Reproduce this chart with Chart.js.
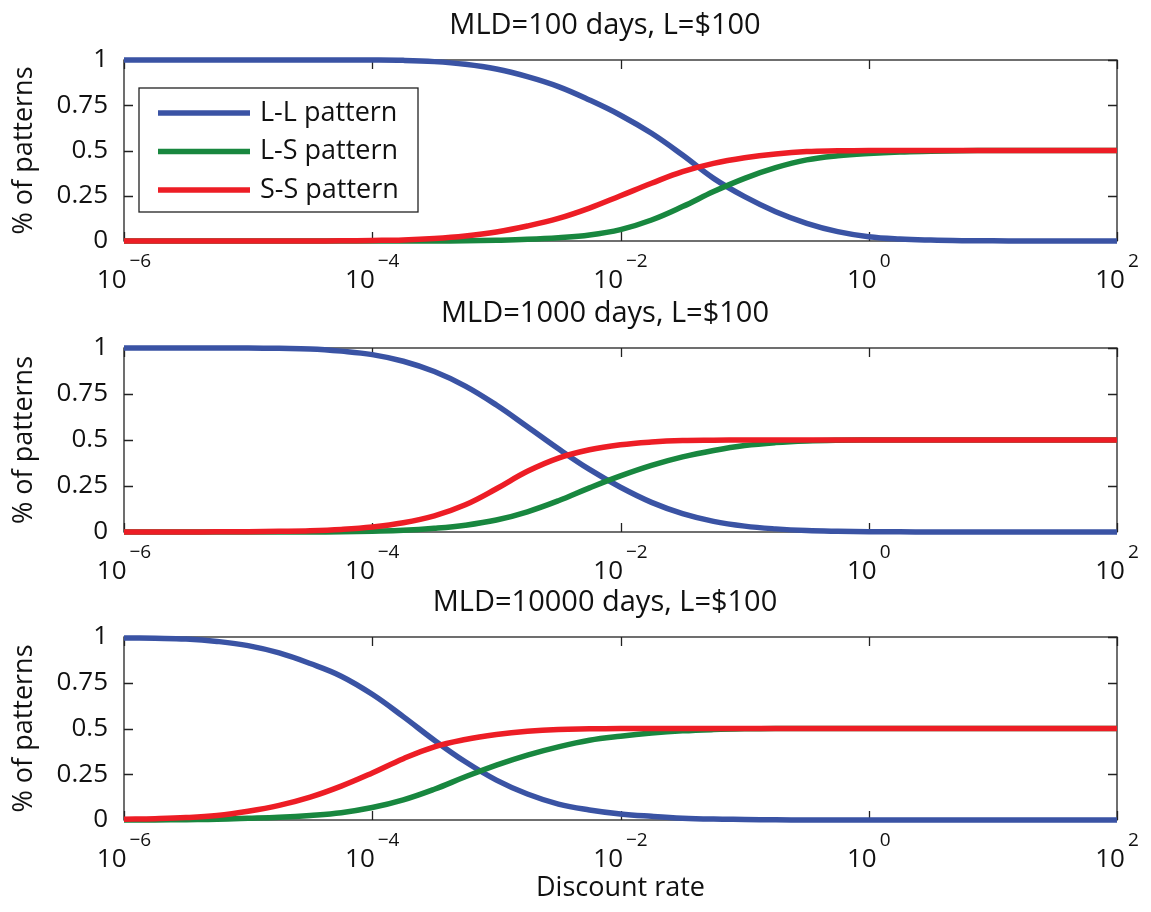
<!DOCTYPE html>
<html><head><meta charset="utf-8">
<script src="https://cdn.jsdelivr.net/npm/chart.js@4/dist/chart.umd.min.js"></script>
<style>
html,body{margin:0;padding:0;background:#fff;}
#wrap{position:relative;width:1151px;height:912px;background:#fff;}
canvas{position:absolute;left:0;}
</style></head><body>
<div id="wrap">
<canvas id="c1" width="1151" height="290" style="top:0px"></canvas>
<canvas id="c2" width="1151" height="295" style="top:290px"></canvas>
<canvas id="c3" width="1151" height="327" style="top:585px"></canvas>
</div>
<script>
// ---- data ----
const logRate = [-6,-5.75,-5.5,-5.25,-5,-4.75,-4.5,-4.25,-4,-3.75,-3.5,-3.25,-3,-2.75,-2.5,-2.25,-2,-1.75,-1.5,-1.25,-1,-0.75,-0.5,-0.25,0,0.25,0.5,0.75,1,1.25,1.5,1.75,2];
const xTickExponents = [-6,-4,-2,0,2];
const yTickValues = [0,0.25,0.5,0.75,1];
const seriesNames = ['L-L pattern','L-S pattern','S-S pattern'];
const panelTitles = ['MLD=100 days, L=$100','MLD=1000 days, L=$100','MLD=10000 days, L=$100'];
const yAxisLabel = '% of patterns';
const xAxisLabel = 'Discount rate';

const LL_100 = [1,1,1,1,1,1,1,1,1,0.998,0.991,0.976,0.95,0.908,0.853,0.779,0.695,0.595,0.475,0.346,0.245,0.162,0.098,0.052,0.024,0.011,0.005,0.002,0.001,0,0,0,0];
const LS_100 = [0,0,0,0,0,0,0,0,0,0,0,0.001,0.004,0.009,0.018,0.033,0.063,0.116,0.19,0.273,0.346,0.405,0.448,0.471,0.484,0.492,0.496,0.499,0.5,0.5,0.5,0.5,0.5];
const SS_100 = [0,0,0,0,0,0,0,0.001,0.003,0.006,0.014,0.028,0.05,0.083,0.125,0.182,0.25,0.319,0.383,0.429,0.46,0.481,0.494,0.498,0.5,0.5,0.5,0.5,0.5,0.5,0.5,0.5,0.5];

const LL_1000 = [1,1,1,1,1,0.998,0.995,0.983,0.964,0.928,0.872,0.793,0.69,0.572,0.452,0.34,0.243,0.161,0.1,0.058,0.032,0.017,0.008,0.004,0.002,0.001,0,0,0,0,0,0,0];
const LS_1000 = [0,0,0,0,0,0,0,0.001,0.004,0.009,0.02,0.037,0.065,0.11,0.17,0.24,0.305,0.362,0.408,0.443,0.47,0.486,0.495,0.499,0.5,0.5,0.5,0.5,0.5,0.5,0.5,0.5,0.5];
const SS_1000 = [0,0,0,0.001,0.002,0.004,0.007,0.014,0.027,0.05,0.088,0.148,0.235,0.33,0.402,0.447,0.474,0.489,0.497,0.499,0.5,0.5,0.5,0.5,0.5,0.5,0.5,0.5,0.5,0.5,0.5,0.5,0.5];

const LL_10000 = [0.995,0.993,0.989,0.976,0.953,0.913,0.855,0.786,0.687,0.565,0.436,0.318,0.218,0.142,0.087,0.055,0.033,0.02,0.01,0.005,0.003,0.001,0,0,0,0,0,0,0,0,0,0,0];
const LS_10000 = [0,0,0.002,0.004,0.009,0.015,0.025,0.04,0.068,0.11,0.168,0.236,0.3,0.355,0.4,0.436,0.458,0.475,0.487,0.494,0.498,0.5,0.5,0.5,0.5,0.5,0.5,0.5,0.5,0.5,0.5,0.5,0.5];
const SS_10000 = [0.004,0.007,0.013,0.025,0.048,0.08,0.125,0.185,0.257,0.335,0.4,0.44,0.467,0.485,0.495,0.498,0.5,0.5,0.5,0.5,0.5,0.5,0.5,0.5,0.5,0.5,0.5,0.5,0.5,0.5,0.5,0.5,0.5];

const panelSeries = [[LL_100, LS_100, SS_100],[LL_1000, LS_1000, SS_1000],[LL_10000, LS_10000, SS_10000]];

// ---- styles ----
const colors = ['#3a53a4','#18873f','#ed1d25'];
const FONT = '"Open Sans", "Noto Sans", sans-serif';
const axisColor = '#222';

const layouts = [
  {id:'c1', h:290, top:60, bottom:241, legend:true, xTitle:false},
  {id:'c2', h:295, top:58, bottom:242, legend:false, xTitle:false},
  {id:'c3', h:327, top:52, bottom:235, legend:false, xTitle:true}
];

function makePlugin(pi, cfg){
  return {
    id:'matlabFrame'+pi,
    beforeDatasetsDraw(chart){
      const {ctx, chartArea:a, scales:{x,y}} = chart;
      ctx.save();
      ctx.strokeStyle = axisColor; ctx.lineWidth = 1.3;
      ctx.strokeRect(a.left, a.top, a.right-a.left, a.bottom-a.top);
      ctx.beginPath();
      xTickExponents.forEach(e=>{
        const px = Math.round(x.getPixelForValue(Math.pow(10,e)))+0.5;
        ctx.moveTo(px,a.bottom); ctx.lineTo(px,a.bottom-9);
        ctx.moveTo(px,a.top); ctx.lineTo(px,a.top+9);
      });
      yTickValues.forEach(v=>{
        const py = Math.round(y.getPixelForValue(v))+0.5;
        ctx.moveTo(a.left,py); ctx.lineTo(a.left+9,py);
        ctx.moveTo(a.right,py); ctx.lineTo(a.right-9,py);
      });
      ctx.stroke();
      ctx.restore();
    },
    afterDraw(chart){
      const {ctx, chartArea:a, scales:{x}} = chart;
      ctx.save();
      ctx.fillStyle = '#111';
      // panel title
      ctx.font = '29px '+FONT;
      ctx.textAlign = 'center'; ctx.textBaseline = 'middle';
      ctx.fillText(panelTitles[pi], 605, a.top-34);
      // x tick labels 10^n
      ctx.textAlign = 'left'; ctx.textBaseline = 'alphabetic';
      xTickExponents.forEach(e=>{
        const px = x.getPixelForValue(Math.pow(10,e));
        const base = '10';
        const exp = e < 0 ? '\u2212' + (-e) : String(e);
        ctx.font = '26px '+FONT; const wb = ctx.measureText(base).width;
        ctx.font = '19px '+FONT; const we = ctx.measureText(exp).width;
        const gap = 3;
        const x0 = px - (wb+gap+we)/2;
        ctx.font = '26px '+FONT; ctx.fillText(base, x0, a.bottom+47);
        ctx.font = '19px '+FONT; ctx.fillText(exp, x0+wb+gap, a.bottom+26);
      });
      // legend
      if (cfg.legend){
        const bx = a.left+15, by = a.top+28, bw = 279, bh = 124;
        ctx.fillStyle = '#fff';
        ctx.fillRect(bx,by,bw,bh);
        ctx.strokeStyle = axisColor; ctx.lineWidth = 1.3;
        ctx.strokeRect(bx,by,bw,bh);
        ctx.font = '27px '+FONT;
        ctx.textBaseline = 'middle'; ctx.textAlign = 'left';
        seriesNames.forEach((n,i)=>{
          const yy = by + 25 + i*38.5;
          ctx.strokeStyle = colors[i]; ctx.lineWidth = 5.5; ctx.lineCap = 'butt';
          ctx.beginPath(); ctx.moveTo(bx+19,yy); ctx.lineTo(bx+111,yy); ctx.stroke();
          ctx.fillStyle = '#111';
          ctx.fillText(n, bx+121, yy);
        });
      }
      ctx.restore();
    }
  };
}

layouts.forEach((cfg, pi)=>{
  const series = panelSeries[pi];
  const datasets = series.map((arr, si)=>({
    label: seriesNames[si],
    data: logRate.map((e,i)=>({x: Math.pow(10,e), y: arr[i]})),
    borderColor: colors[si],
    backgroundColor: colors[si],
    borderWidth: 5.5,
    borderJoinStyle: 'round',
    pointRadius: 0,
    fill: false,
    tension: 0.4,
    clip: 6,
    order: 2 - si
  }));
  new Chart(document.getElementById(cfg.id), {
    type: 'line',
    data: { datasets },
    plugins: [makePlugin(pi, cfg)],
    options: {
      responsive: false,
      animation: false,
      devicePixelRatio: 1,
      layout: { padding: { top: cfg.top, right: 34, left: 0, bottom: 0 } },
      plugins: { legend: { display: false }, title: { display: false }, tooltip: { enabled: false } },
      scales: {
        x: {
          type: 'logarithmic', min: 1e-6, max: 1e2,
          grid: { display: false, drawTicks: false },
          border: { display: false },
          ticks: { display: false },
          title: { display: cfg.xTitle, text: xAxisLabel, color: '#111', font: { family: FONT, size: 27 }, padding: { top: 0, bottom: 7.8 } },
          afterFit(scale){ scale.height = cfg.h - cfg.bottom; }
        },
        y: {
          min: 0, max: 1,
          grid: { display: false, drawTicks: false },
          border: { display: false },
          ticks: { stepSize: 0.25, color: '#111', padding: 16, font: { family: FONT, size: 26 },
                   callback: (v)=> yTickValues.includes(v) ? String(v) : '' },
          title: { display: true, text: yAxisLabel, color: '#111', font: { family: FONT, size: 27 }, padding: { top: 7.8, bottom: 0 } },
          afterFit(scale){ scale.width = 124; }
        }
      }
    }
  });
});
</script>
</body></html>
